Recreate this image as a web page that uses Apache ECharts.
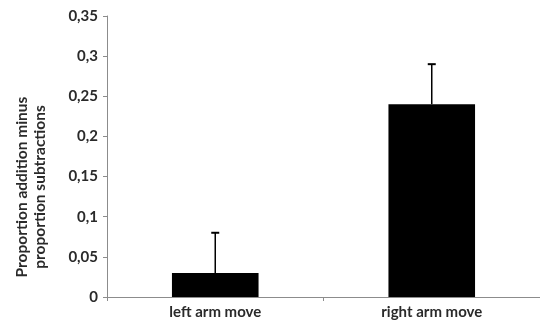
<!DOCTYPE html>
<html>
<head>
<meta charset="utf-8">
<script src="https://cdn.jsdelivr.net/npm/echarts@6/dist/echarts.min.js"></script>
<style>html,body{margin:0;padding:0;background:#fff}#c{width:540px;height:325px}</style>
</head>
<body>
<div id="c"></div>
<script>
var categories = ['left arm move', 'right arm move'];
var means = [0.03, 0.24];
var errHigh = [0.08, 0.29];
var yTicks = [0, 0.05, 0.1, 0.15, 0.2, 0.25, 0.3, 0.35];
var yName = ['Proportion addition minus', 'proportion subtractions'];

var chart = echarts.init(document.getElementById('c'), null, {renderer: 'canvas'});
var font = 'Lato';
chart.setOption({
  animation: false,
  backgroundColor: '#fff',
  grid: {left: 107, top: 16, width: 440, bottom: 28},
  xAxis: {
    type: 'category',
    data: categories,
    axisLine: {lineStyle: {color: '#8c8c8c', width: 1}},
    axisTick: {show: true, length: 4, lineStyle: {color: '#8c8c8c'}},
    axisLabel: {color: '#2a2a2a', fontFamily: font, fontWeight: 'bold', fontSize: 15, margin: 8}
  },
  yAxis: {
    type: 'value',
    min: 0, max: 0.35, interval: 0.05,
    splitLine: {show: false},
    axisLine: {show: true, lineStyle: {color: '#8c8c8c', width: 1}},
    axisTick: {show: true, length: 4, lineStyle: {color: '#8c8c8c'}},
    axisLabel: {
      color: '#2a2a2a', fontFamily: font, fontWeight: 'bold', fontSize: 15, margin: 9,
      formatter: function (v) {
        var s = yTicks.indexOf(+v.toFixed(2)) >= 0 ? String(+v.toFixed(2)) : String(v);
        return s.replace('.', ',');
      }
    }
  },
  graphic: [{
    type: 'text',
    x: 31, y: 187,
    rotation: Math.PI / 2,
    style: {
      text: yName.join('\n'),
      font: 'bold 15.5px Lato',
      fill: '#2a2a2a',
      textAlign: 'center',
      textVerticalAlign: 'middle',
      lineHeight: 18
    }
  }],
  series: [{
    type: 'bar',
    data: means,
    barWidth: '40%',
    itemStyle: {color: '#000'}
  }, {
    type: 'custom',
    data: categories.map(function (c, i) { return [i, means[i], errHigh[i]]; }),
    renderItem: function (params, api) {
      var lo = api.coord([api.value(0), api.value(1)]);
      var hi = api.coord([api.value(0), api.value(2)]);
      var hw = 4;
      return {
        type: 'group',
        children: [{
          type: 'line',
          shape: {x1: lo[0], y1: lo[1], x2: hi[0], y2: hi[1]},
          style: {stroke: '#000', lineWidth: 1.5}
        }, {
          type: 'line',
          shape: {x1: hi[0] - hw, y1: hi[1], x2: hi[0] + hw, y2: hi[1]},
          style: {stroke: '#000', lineWidth: 2}
        }]
      };
    },
    z: 3
  }]
});
</script>
</body>
</html>
